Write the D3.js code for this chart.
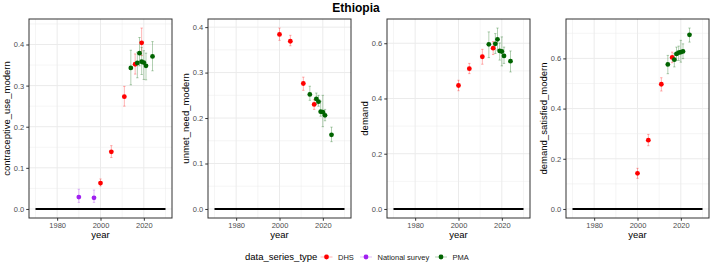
<!DOCTYPE html>
<html lang="en">
<head>
<meta charset="UTF-8">
<title>Ethiopia</title>
<script src="https://cdnjs.cloudflare.com/ajax/libs/d3/7.8.5/d3.min.js"></script>
<style>
  body { margin: 0; background: #fff; }
  text { font-family: "Liberation Sans", Arial, sans-serif; }
</style>
</head>
<body>
<svg id="chart" width="714" height="268"></svg>
<script>
// ---- data: [year, estimate, lower, upper] ----
const seriesTypes = ["DHS", "National survey", "PMA"];
const seriesColors = ["#ff0000", "#a020f0", "#006400"];
const indicators = ["contraceptive_use_modern", "unmet_need_modern", "demand", "demand_satisfied_modern"];

const cpDHS = [[2000, 0.063, 0.056, 0.073], [2005, 0.139, 0.125, 0.154], [2011, 0.273, 0.250, 0.298], [2016, 0.352, 0.328, 0.377], [2019, 0.404, 0.373, 0.440]];
const cpNational = [[1990, 0.029, 0.016, 0.048], [1997, 0.027, 0.016, 0.046]];
const cpPMA = [[2014, 0.343, 0.302, 0.386], [2017, 0.355, 0.319, 0.381], [2018, 0.379, 0.348, 0.417], [2019, 0.358, 0.327, 0.393], [2020, 0.356, 0.315, 0.385], [2021, 0.348, 0.314, 0.379], [2024, 0.371, 0.336, 0.407]];

const unmetDHS = [[2000, 0.384, 0.371, 0.398], [2005, 0.369, 0.359, 0.382], [2011, 0.276, 0.261, 0.290], [2016, 0.230, 0.219, 0.241]];
const unmetPMA = [[2014, 0.252, 0.239, 0.270], [2017, 0.242, 0.230, 0.255], [2018, 0.236, 0.226, 0.250], [2019, 0.214, 0.204, 0.237], [2020, 0.213, 0.181, 0.250], [2021, 0.206, 0.194, 0.219], [2024, 0.163, 0.148, 0.180]];

const demandDHS = [[2000, 0.447, 0.428, 0.466], [2005, 0.508, 0.490, 0.527], [2011, 0.551, 0.524, 0.578], [2016, 0.582, 0.559, 0.606]];
const demandPMA = [[2014, 0.596, 0.548, 0.641], [2017, 0.598, 0.563, 0.635], [2018, 0.614, 0.575, 0.655], [2019, 0.572, 0.539, 0.601], [2020, 0.570, 0.518, 0.623], [2021, 0.554, 0.527, 0.586], [2024, 0.535, 0.496, 0.572]];

const satDHS = [[2000, 0.142, 0.122, 0.162], [2005, 0.274, 0.252, 0.297], [2011, 0.497, 0.470, 0.523], [2016, 0.604, 0.583, 0.625]];
const satPMA = [[2014, 0.576, 0.539, 0.612], [2017, 0.595, 0.566, 0.619], [2018, 0.618, 0.592, 0.645], [2019, 0.623, 0.592, 0.649], [2020, 0.625, 0.585, 0.672], [2021, 0.628, 0.599, 0.658], [2024, 0.694, 0.665, 0.721]];

const panelData = [
    {DHS: cpDHS, "National survey": cpNational, PMA: cpPMA},
    {DHS: unmetDHS, "National survey": [], PMA: unmetPMA},
    {DHS: demandDHS, "National survey": [], PMA: demandPMA},
    {DHS: satDHS, "National survey": [], PMA: satPMA}
];
const yearTicks = [1980, 2000, 2020];
const refLine = [1970, 2030]; // black line at 0

// ---- layout ----
const svg = d3.select("#chart");
const panelLefts = [29, 208, 387, 566];
const panelWidth = 143;
const panelTop = 19, panelBottom = 218;
const color = d3.scaleOrdinal().domain(seriesTypes).range(seriesColors);

svg.append("text")
    .attr("x", 356).attr("y", 12)
    .attr("text-anchor", "middle")
    .style("font-size", "12px").style("font-weight", "bold")
    .text("Ethiopia");

indicators.forEach(function(name, i) {
    const data = panelData[i];
    const all = [].concat(...seriesTypes.map(s => data[s]));
    const yMax = d3.max(all, d => d[3]);
    const yPad = yMax * 0.05;
    const x = d3.scaleLinear().domain([1967, 2033]).range([panelLefts[i], panelLefts[i] + panelWidth]);
    const y = d3.scaleLinear().domain([-yPad, yMax + yPad]).range([panelBottom, panelTop]);

    const step = yMax > 0.5 ? 0.2 : 0.1;
    const majorY = d3.range(0, yMax + yPad + 1e-9, step);
    const minorY = d3.range(step / 2, yMax + yPad, step);
    const g = svg.append("g");

    // grid
    g.selectAll(".minx").data([1970, 1990, 2010, 2030]).enter().append("line")
        .attr("x1", d => x(d)).attr("x2", d => x(d)).attr("y1", panelTop).attr("y2", panelBottom)
        .attr("stroke", "#ebebeb").attr("stroke-width", 0.5);
    g.selectAll(".miny").data(minorY).enter().append("line")
        .attr("x1", x.range()[0]).attr("x2", x.range()[1]).attr("y1", d => y(d)).attr("y2", d => y(d))
        .attr("stroke", "#ebebeb").attr("stroke-width", 0.5);
    g.selectAll(".majx").data(yearTicks).enter().append("line")
        .attr("x1", d => x(d)).attr("x2", d => x(d)).attr("y1", panelTop).attr("y2", panelBottom)
        .attr("stroke", "#ebebeb").attr("stroke-width", 1);
    g.selectAll(".majy").data(majorY).enter().append("line")
        .attr("x1", x.range()[0]).attr("x2", x.range()[1]).attr("y1", d => y(d)).attr("y2", d => y(d))
        .attr("stroke", "#ebebeb").attr("stroke-width", 1);

    // reference line at 0
    g.append("line")
        .attr("x1", x(refLine[0])).attr("x2", x(refLine[1]))
        .attr("y1", y(0)).attr("y2", y(0))
        .attr("stroke", "black").attr("stroke-width", 2);

    // error bars then points
    seriesTypes.forEach(function(s) {
        const pts = data[s];
        const eb = g.selectAll(".eb" + s.replace(" ", "")).data(pts).enter().append("g")
            .attr("stroke", color(s)).attr("stroke-opacity", 0.3).attr("stroke-width", 1);
        eb.append("line").attr("x1", d => x(d[0])).attr("x2", d => x(d[0]))
            .attr("y1", d => y(d[2])).attr("y2", d => y(d[3]));
        eb.append("line").attr("x1", d => x(d[0]) - 1.2).attr("x2", d => x(d[0]) + 1.2)
            .attr("y1", d => y(d[2])).attr("y2", d => y(d[2]));
        eb.append("line").attr("x1", d => x(d[0]) - 1.2).attr("x2", d => x(d[0]) + 1.2)
            .attr("y1", d => y(d[3])).attr("y2", d => y(d[3]));
    });
    seriesTypes.forEach(function(s) {
        g.selectAll(".pt" + s.replace(" ", "")).data(data[s]).enter().append("circle")
            .attr("cx", d => x(d[0])).attr("cy", d => y(d[1])).attr("r", 2.4)
            .attr("fill", color(s));
    });

    // panel border
    g.append("rect")
        .attr("x", x.range()[0]).attr("y", panelTop)
        .attr("width", panelWidth).attr("height", panelBottom - panelTop)
        .attr("fill", "none").attr("stroke", "#333333").attr("stroke-width", 1);

    // axes
    const xAxis = g.append("g").attr("transform", "translate(0," + panelBottom + ")")
        .call(d3.axisBottom(x).tickValues(yearTicks).tickFormat(d3.format("d")).tickSize(2.75).tickPadding(2));
    const yAxis = g.append("g").attr("transform", "translate(" + x.range()[0] + ",0)")
        .call(d3.axisLeft(y).tickValues(majorY).tickFormat(d3.format(".1f")).tickSize(2.75).tickPadding(2));
    [xAxis, yAxis].forEach(function(a) {
        a.select(".domain").remove();
        a.selectAll(".tick line").attr("stroke", "#333333");
        a.selectAll(".tick text").attr("fill", "#4d4d4d").style("font-size", "7.5px");
    });

    g.append("text")
        .attr("x", x(2000)).attr("y", 238)
        .attr("text-anchor", "middle")
        .style("font-size", "9.5px")
        .text("year");
    g.append("text")
        .attr("transform", "translate(" + (x.range()[0] - 19) + "," + ((panelTop + panelBottom) / 2) + ") rotate(-90)")
        .attr("text-anchor", "middle")
        .style("font-size", "9.5px")
        .text(name);
});

// legend
const legend = svg.append("g").attr("transform", "translate(0,257)");
legend.append("text").attr("x", 245).attr("y", 3.3).style("font-size", "9.5px").text("data_series_type");
const legendX = [326.5, 366, 441];
seriesTypes.forEach(function(s, i) {
    const lg = legend.append("g").attr("transform", "translate(" + legendX[i] + ",0)");
    lg.append("line").attr("x1", -6).attr("x2", 6).attr("stroke", color(s)).attr("stroke-opacity", 0.3);
    lg.append("circle").attr("r", 2.4).attr("fill", color(s));
    lg.append("text").attr("x", 11.5).attr("y", 2.7).style("font-size", "7.5px").attr("fill", "#1a1a1a").text(s);
});
</script>
</body>
</html>
